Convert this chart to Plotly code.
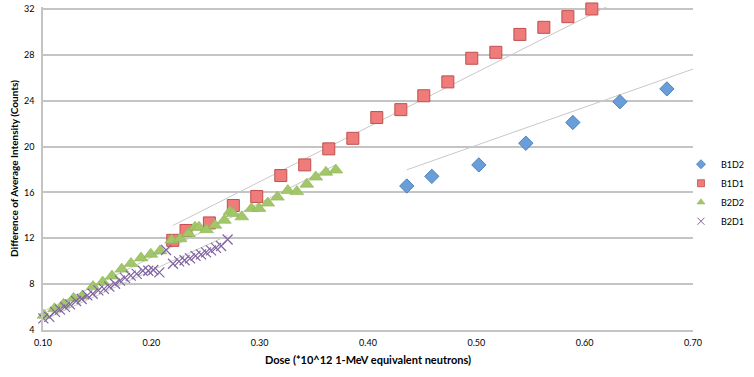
import plotly.graph_objects as go

# ---- data ----
b1d2_dose = [0.4358, 0.4589, 0.5023, 0.5457, 0.5891, 0.6325, 0.6759]
b1d2_val = [16.56, 17.40, 18.40, 20.29, 22.10, 23.91, 25.03]

b1d1_dose = [0.2198, 0.2320, 0.2536, 0.2757, 0.2973, 0.3195, 0.3416, 0.3638,
             0.3860, 0.4081, 0.4303, 0.4515, 0.4737, 0.4958, 0.5180, 0.5402,
             0.5623, 0.5845, 0.6066]
b1d1_val = [11.82, 12.68, 13.34, 14.86, 15.64, 17.47, 18.40, 19.80, 20.72,
            22.53, 23.22, 24.43, 25.64, 27.70, 28.22, 29.78, 30.40, 31.33, 32.0]

b2d2_dose = [0.1009, 0.1106, 0.1189, 0.1282, 0.1364, 0.1462, 0.1551, 0.1637,
             0.1727, 0.1812, 0.1905, 0.1995, 0.2080, 0.2188, 0.2265, 0.2343,
             0.2403, 0.2440, 0.2510, 0.2588, 0.2674, 0.2727, 0.2754, 0.2835,
             0.2924, 0.2994, 0.3075, 0.3164, 0.3260, 0.3343, 0.3435, 0.3518,
             0.3611, 0.3703]
b2d2_val = [5.29, 5.85, 6.24, 6.76, 6.97, 7.79, 8.18, 8.71, 9.31, 9.81, 10.29,
            10.61, 10.90, 11.84, 11.96, 12.42, 12.97, 12.97, 12.75, 13.14,
            13.57, 14.34, 14.17, 13.87, 14.59, 14.60, 15.07, 15.59, 16.16,
            16.07, 16.72, 17.34, 17.76, 17.95]

b2d1_dose = [0.1003, 0.1058, 0.1111, 0.1157, 0.1203, 0.1249, 0.1305, 0.1357,
             0.1409, 0.1459, 0.1511, 0.1563, 0.1612, 0.1665, 0.1711, 0.1757,
             0.1810, 0.1865, 0.1921, 0.1972, 0.2018, 0.2074, 0.2136,
             0.2200, 0.2256, 0.2307, 0.2357, 0.2408, 0.2459, 0.2505, 0.2551,
             0.2597, 0.2644, 0.2704]
b2d1_val = [5.01, 5.15, 5.58, 5.78, 6.01, 6.24, 6.53, 6.70, 7.02, 7.16, 7.45,
            7.59, 7.79, 8.03, 8.31, 8.54, 8.74, 8.89, 9.17, 9.17, 9.23, 9.03,
            10.98, 9.78, 9.99, 10.08, 10.25, 10.47, 10.59, 10.77, 10.94, 11.16,
            11.33, 11.89]

# trendline end points (dose, value) as drawn in the reference
trend_b1d2_dose = [0.4358, 0.70]
trend_b1d2_val = [17.97, 26.76]
trend_b1d1_dose = [0.2198, 0.625]
trend_b1d1_val = [13.11, 32.42]
trend_b2d2_dose = [0.1003, 0.3696]
trend_b2d2_val = [5.62, 18.37]
trend_b2d1_dose = [0.1003, 0.2704]
trend_b2d1_val = [4.86, 12.24]

series_names = ["B1D2", "B1D1", "B2D2", "B2D1"]
x_ticks = [0.10, 0.20, 0.30, 0.40, 0.50, 0.60, 0.70]
y_ticks = [4, 8, 12, 16, 20, 24, 28, 32]

FONT = "Lato"
TREND = "#c8c8c8"
GRID = "#c4c4c4"

styles = {
    "B1D2": dict(symbol="diamond", size=11, color="#6a9ed8",
                 line=dict(color="#4f81bd", width=1)),
    "B1D1": dict(symbol="square", size=12, color="#ef7b7b",
                 line=dict(color="#c0504d", width=1)),
    "B2D2": dict(symbol="triangle-up", size=12, color="#a2c76a",
                 line=dict(color="#8db350", width=0.6)),
    "B2D1": dict(symbol="x-thin", size=10,
                 line=dict(color="#8064a2", width=1.2)),
}
legend_styles = {
    "B1D2": dict(symbol="diamond", size=7, color="#6a9ed8",
                 line=dict(color="#4f81bd", width=0.8)),
    "B1D1": dict(symbol="square", size=7, color="#ef7b7b",
                 line=dict(color="#c0504d", width=0.8)),
    "B2D2": dict(symbol="triangle-up", size=7, color="#a2c76a",
                 line=dict(color="#8db350", width=0.5)),
    "B2D1": dict(symbol="x-thin", size=7,
                 line=dict(color="#8064a2", width=1)),
}

fig = go.Figure()

for tx, ty in [(trend_b1d2_dose, trend_b1d2_val), (trend_b1d1_dose, trend_b1d1_val),
               (trend_b2d2_dose, trend_b2d2_val), (trend_b2d1_dose, trend_b2d1_val)]:
    fig.add_trace(go.Scatter(x=tx, y=ty, mode="lines",
                             line=dict(color=TREND, width=1),
                             showlegend=False, hoverinfo="skip"))

data = {
    "B1D2": (b1d2_dose, b1d2_val),
    "B1D1": (b1d1_dose, b1d1_val),
    "B2D2": (b2d2_dose, b2d2_val),
    "B2D1": (b2d1_dose, b2d1_val),
}
for name in series_names:
    xs, ys = data[name]
    fig.add_trace(go.Scatter(x=xs, y=ys, mode="markers", name=name,
                             cliponaxis=False, marker=styles[name],
                             showlegend=False))
# legend-only entries with small symbols, as in the reference
for name in series_names:
    fig.add_trace(go.Scatter(x=[None], y=[None], mode="markers", name=name,
                             marker=legend_styles[name], showlegend=True))

fig.update_layout(
    width=754, height=377,
    autosize=False,
    margin=dict(l=43, r=61, t=3, b=47),
    paper_bgcolor="white", plot_bgcolor="white",
    font=dict(family=FONT, size=9, color="black"),
    showlegend=True,
    legend=dict(x=0.9815, xanchor="left", y=0.425, yanchor="middle",
                font=dict(family=FONT, size=9, color="black"),
                itemwidth=30, tracegroupgap=0, bgcolor="rgba(0,0,0,0)"),
    xaxis=dict(range=[0.1, 0.7], tickvals=x_ticks, tickformat=".2f",
               showgrid=False, zeroline=False, showline=True,
               linecolor=GRID, linewidth=1.5, ticks="",
               ticklabelstandoff=3,
               tickfont=dict(family=FONT, size=9),
               title=dict(text="<b>Dose (*10^12 1-MeV equivalent neutrons)</b>",
                          font=dict(family=FONT, size=11), standoff=10)),
    yaxis=dict(range=[4, 32.172], tickvals=y_ticks,
               showgrid=True, gridcolor=GRID, gridwidth=1.5,
               zeroline=False, showline=True, linecolor=GRID, linewidth=1.5,
               ticks="", ticklabelstandoff=5, ticklabeloverflow="allow",
               tickfont=dict(family=FONT, size=9),
               title=dict(text="<b>Difference of Average Intensity (Counts)</b>",
                          font=dict(family=FONT, size=10), standoff=3)),
)

fig.write_html(
    "out.html",
    config={"responsive": False, "displayModeBar": False},
    post_script="document.body.style.margin='0';document.body.style.overflow='hidden';",
)
